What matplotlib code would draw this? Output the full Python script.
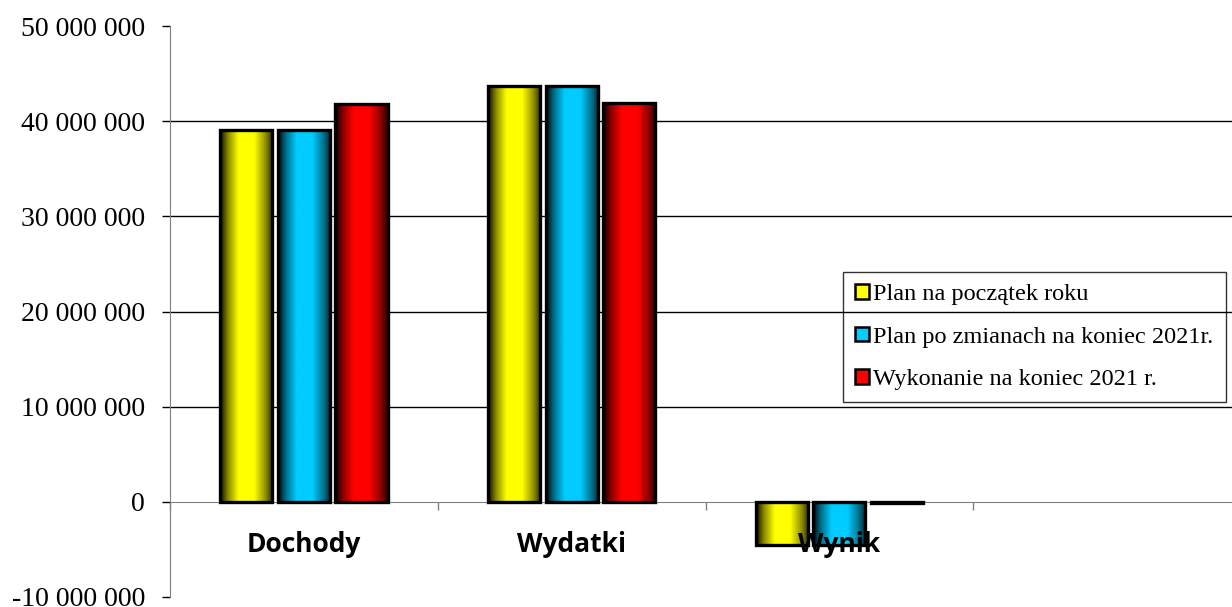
import numpy as np
import matplotlib.pyplot as plt
from matplotlib.patches import Patch
from matplotlib.ticker import FuncFormatter

# Data (PLN)
categories = ['Dochody', 'Wydatki', 'Wynik']
series = ['Plan na początek roku',
          'Plan po zmianach na koniec 2021r.',
          'Wykonanie na koniec 2021 r.']
plan_start = [39100000, 43650000, -4550000]
plan_changed = [39100000, 43650000, -4550000]
executed = [41800000, 41900000, -100000]
colors = ['#ffff00', '#00ccff', '#ff0000']

values = [plan_start, plan_changed, executed]
offsets = [-0.215, 0.0, 0.215]
width = 0.195

fig = plt.figure(figsize=(12.32, 6.07), dpi=100)
ax = fig.add_axes([170/1232, 10/607, (1241-170)/1232, 571/607])

# horizontal shading like the old excel cylinders
t = np.linspace(0, 1, 64)
prof = np.interp(t, [0, 0.15, 0.35, 0.65, 0.85, 1], [0.05, 0.55, 1, 1, 0.6, 0.2])

x = np.arange(len(categories))
for vals, off, col in zip(values, offsets, colors):
    bars = ax.bar(x + off, vals, width, facecolor='none', edgecolor='black',
                  linewidth=2.4, zorder=3)
    rgb = np.array(plt.matplotlib.colors.to_rgb(col))
    img = (prof[:, None] * rgb[None, :])[None, :, :]
    for b in bars:
        x0, y0 = b.get_x(), b.get_y()
        w, h = b.get_width(), b.get_height()
        im = ax.imshow(img, extent=[x0, x0 + w, y0, y0 + h], aspect='auto',
                       interpolation='bilinear', zorder=2)
        im.set_clip_path(b)

ax.set_xlim(-0.5, 3.5)
ax.set_ylim(-10000000, 50000000)

ax.set_yticks(np.arange(-10000000, 50000001, 10000000))
ax.yaxis.set_major_formatter(FuncFormatter(lambda v, p: f'{int(v):,}'.replace(',', ' ')))
for lab in ax.get_yticklabels():
    lab.set_fontfamily('Liberation Serif')
    lab.set_fontsize(20)
ax.tick_params(axis='y', length=6, width=1, color='black', pad=12)

for gv in range(10000000, 50000000, 10000000):
    ax.axhline(gv, color='black', linewidth=1, zorder=1)

ax.spines['top'].set_visible(False)
ax.spines['right'].set_visible(False)
ax.spines['left'].set_color('#808080')
ax.spines['bottom'].set_position(('data', 0))
ax.spines['bottom'].set_color('#808080')
ax.set_xticks(np.arange(-0.5, 3.6, 1))
ax.set_xticklabels([])
ax.tick_params(axis='x', length=6, width=1, color='#808080', direction='out')

for i, name in enumerate(categories):
    ax.text(i, -4500000, name, ha='center', va='center', fontsize=19,
            fontweight='bold', family='Open Sans', zorder=5)

handles = [Patch(facecolor=c, edgecolor='black', linewidth=1.8) for c in colors]
leg = fig.legend(handles, series, loc='upper left',
                 bbox_to_anchor=(843/1232, 1 - 272/607), borderaxespad=0,
                 prop={'family': 'Liberation Serif', 'size': 17.5},
                 handlelength=0.55, handleheight=0.55, handletextpad=0.2,
                 labelspacing=0.88, fancybox=False, facecolor='none',
                 edgecolor='black', borderpad=0.5)
leg.get_frame().set_linewidth(1)

fig.savefig('out.png', dpi=100)
